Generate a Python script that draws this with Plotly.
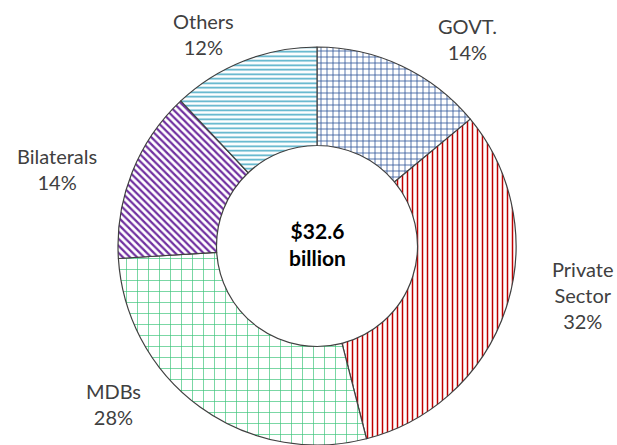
import plotly.graph_objects as go

# Data
categories = ["GOVT.", "Private Sector", "MDBs", "Bilaterals", "Others"]
shares = [14, 32, 28, 14, 12]
total_text = "$32.6<br>billion"

# Styles
fg_colors = ["#2F5597", "#C00000", "#3CC47A", "#7030A0", "#4BACC6"]
shapes = ["+", "|", "+", "\\", "-"]
sizes = [6, 5, 11, 5, 4.5]
solid = [0.25, 0.3, 0.12, 0.45, 0.35]

# label centers in pixel coords (layout only)
label_px = [(467, 39), (583, 295), (113, 404), (57, 169), (203, 34)]
W, H = 617, 445

fig = go.Figure()
fig.add_trace(go.Pie(
    labels=categories,
    values=shares,
    sort=False,
    direction="clockwise",
    rotation=0,
    hole=0.505,
    textinfo="none",
    hoverinfo="label+percent",
    showlegend=False,
    marker=dict(
        colors=["white"] * len(categories),
        line=dict(color="#404040", width=1.2),
        pattern=dict(shape=shapes, fgcolor=fg_colors, bgcolor="white",
                     size=sizes, solidity=solid, fillmode="replace"),
    ),
    domain=dict(x=[118 / W, 516 / W], y=[0, 398 / H]),
))

annotations = []
for cat, val, (px, py) in zip(categories, shares, label_px):
    annotations.append(dict(
        x=px / W, y=1 - py / H, xref="paper", yref="paper",
        text=f"{cat.replace(' ', '<br>')}<br>{val}%",
        showarrow=False, xanchor="center", yanchor="middle",
        font=dict(family="Lato, Liberation Sans, sans-serif", size=20, color="#404040"),
    ))
annotations.append(dict(
    x=317 / W, y=1 - 244 / H, xref="paper", yref="paper",
    text=f"<b>{total_text}</b>", showarrow=False,
    xanchor="center", yanchor="middle",
    font=dict(family="Lato, Liberation Sans, sans-serif", size=21, color="#000000"),
))

fig.update_layout(
    width=W, height=H,
    margin=dict(l=0, r=0, t=0, b=0),
    paper_bgcolor="white", plot_bgcolor="white",
    annotations=annotations,
)

fig.write_html("out.html", config={"displayModeBar": False},
               post_script="document.body.style.margin='0';")
